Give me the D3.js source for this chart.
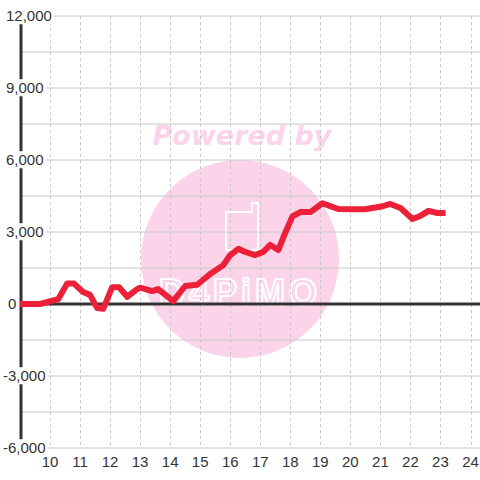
<!DOCTYPE html>
<html>
<head>
<meta charset="utf-8">
<script src="https://cdn.jsdelivr.net/npm/d3@7"></script>
<style>
  body { margin: 0; background: #fff; }
  #box { width: 480px; height: 480px; }
  text { font-family: "Liberation Sans", Arial, sans-serif; }
</style>
</head>
<body>
<div id="box"></div>
<script>
// hour of day for each point
var hours = [9.0, 9.67, 10.27, 10.57, 10.8, 11.1, 11.33, 11.57, 11.77, 12.07, 12.3, 12.57, 12.9,
    13.0, 13.4, 13.6, 14.1, 14.5, 14.9, 15.33, 15.77, 16.0, 16.27, 16.5, 16.83, 17.1, 17.33,
    17.6, 17.83, 18.07, 18.33, 18.67, 18.9, 19.07, 19.33, 19.6, 20.0, 20.5, 20.73, 21.0, 21.33,
    21.67, 22.07, 22.33, 22.6, 22.9, 23.17];
// values
var values = [0, 0, 200, 850, 850, 500, 380, -170, -200, 700, 700, 300, 620,
    680, 540, 620, 120, 750, 800, 1250, 1620, 2040, 2300, 2170, 2040, 2170, 2460,
    2250, 2960, 3650, 3830, 3830, 4040, 4200, 4080, 3960, 3950, 3950, 4000, 4050, 4170,
    4000, 3540, 3670, 3880, 3790, 3790];
var yTicks = [12000, 9000, 6000, 3000, 0, -3000, -6000];
var yGrid = [10500, 7500, 4500, 1500, -1500, -4500];
var xTicks = [10, 11, 12, 13, 14, 15, 16, 17, 18, 19, 20, 21, 22, 23, 24];

var svg = d3.select("#box")
    .append("svg")
    .attr("width", 480)
    .attr("height", 480);

var x = d3.scaleLinear().domain([9, 24]).range([20, 470.5]);
var y = d3.scaleLinear().domain([-6000, 12000]).range([448, 16]);

// watermark
svg.append("circle")
    .attr("cx", 240)
    .attr("cy", 259)
    .attr("r", 99)
    .attr("fill", "#fbd4ea");

svg.append("text")
    .attr("x", 242)
    .attr("y", 145)
    .attr("text-anchor", "middle")
    .style("font-family", "'DejaVu Sans'")
    .attr("font-size", 27)
    .attr("font-weight", "bold")
    .attr("font-style", "italic")
    .attr("fill", "#fbd4ea")
    .text("Powered by");

svg.append("path")
    .attr("d", "M226,212 L226,250 L258,250 L258,203 L252,203 L252,212 Z")
    .attr("fill", "none")
    .attr("stroke", "#fff")
    .attr("stroke-width", 2);

svg.append("text")
    .attr("x", 240)
    .attr("y", 305)
    .attr("text-anchor", "middle")
    .attr("font-size", 36)
    .attr("font-weight", "bold")
    .attr("letter-spacing", 4)
    .attr("fill", "none")
    .attr("stroke", "#fff")
    .attr("stroke-width", 2)
    .text("D4PiMO");

// horizontal grid
svg.selectAll(".hgrid")
    .data(yTicks.concat(yGrid))
    .enter()
    .append("line")
    .attr("class", "hgrid")
    .attr("x1", 20)
    .attr("x2", 480)
    .attr("y1", function(d) { return y(d); })
    .attr("y2", function(d) { return y(d); })
    .attr("stroke", "#c8c8c8")
    .attr("stroke-width", 1);

// vertical dashed grid
svg.selectAll(".vgrid")
    .data(xTicks)
    .enter()
    .append("line")
    .attr("class", "vgrid")
    .attr("x1", function(d) { return Math.round(x(d)) + 0.5; })
    .attr("x2", function(d) { return Math.round(x(d)) + 0.5; })
    .attr("y1", 16)
    .attr("y2", 448)
    .attr("stroke", "#c8c8c8")
    .attr("stroke-dasharray", "3,3");

// axis lines
svg.append("line")
    .attr("x1", 21).attr("x2", 21)
    .attr("y1", 16).attr("y2", 448)
    .attr("stroke", "#333")
    .attr("stroke-width", 3);

svg.append("line")
    .attr("x1", 20).attr("x2", 480)
    .attr("y1", y(0)).attr("y2", y(0))
    .attr("stroke", "#333")
    .attr("stroke-width", 3);

// the series
var line = d3.line()
    .x(function(d, i) { return x(hours[i]); })
    .y(function(d) { return y(d); });

svg.append("path")
    .datum(values)
    .attr("d", line)
    .attr("fill", "none")
    .attr("stroke", "#ec2139")
    .attr("stroke-width", 6)
    .attr("stroke-linejoin", "round");

// y labels with white backing
var fmt = d3.format(",");
var yLab = svg.selectAll(".ylab")
    .data(yTicks)
    .enter()
    .append("g")
    .attr("class", "ylab");

yLab.append("text")
    .attr("x", function(d) { return d < 0 ? 3 : (d == 0 ? 8 : 6); })
    .attr("y", function(d) { return y(d); })
    .attr("dy", "0.35em")
    .attr("font-size", 15)
    .attr("fill", "#333")
    .text(function(d) { return fmt(d).replace("\u2212", "-"); });

yLab.each(function() {
    var t = d3.select(this).select("text");
    var b = t.node().getBBox();
    d3.select(this).insert("rect", "text")
        .attr("x", 0)
        .attr("y", b.y)
        .attr("width", b.x + b.width + 2)
        .attr("height", b.height)
        .attr("fill", "#fff");
});

// x labels
svg.selectAll(".xlab")
    .data(xTicks)
    .enter()
    .append("text")
    .attr("class", "xlab")
    .attr("x", function(d) { return x(d); })
    .attr("y", 467)
    .attr("text-anchor", "middle")
    .attr("font-size", 15)
    .attr("fill", "#333")
    .text(function(d) { return d; });
</script>
</body>
</html>
